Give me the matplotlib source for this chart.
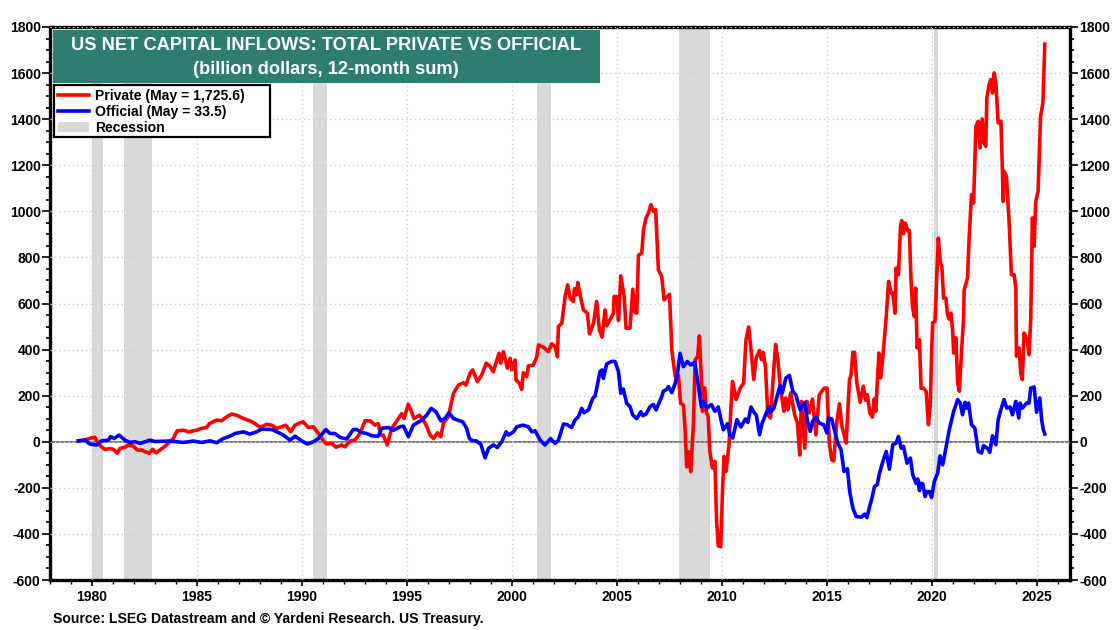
import matplotlib
matplotlib.use('Agg')
import matplotlib.pyplot as plt
from matplotlib.patches import Rectangle
from matplotlib.ticker import MultipleLocator

plt.rcParams['font.family'] = ['Liberation Sans', 'DejaVu Sans']
plt.rcParams['font.weight'] = 'bold'
plt.rcParams['axes.unicode_minus'] = False

private_year = [1979.35, 1979.59, 1979.83, 1979.98, 1980.14, 1980.25, 1980.41, 1980.62, 1980.86, 1981.02, 1981.21, 1981.33, 1981.57, 1981.73, 1981.97, 1982.16, 1982.37, 1982.52, 1982.73, 1982.89, 1983.05, 1983.24, 1983.48, 1983.71, 1983.87, 1984.06, 1984.38, 1984.59, 1984.98, 1985.22, 1985.46, 1985.59, 1985.94, 1986.17, 1986.41, 1986.65, 1986.89, 1987.21, 1987.52, 1987.76, 1988.0, 1988.32, 1988.56, 1988.79, 1989.03, 1989.22, 1989.46, 1989.67, 1989.9, 1990.06, 1990.3, 1990.54, 1990.78, 1991.02, 1991.17, 1991.41, 1991.62, 1991.89, 1992.05, 1992.29, 1992.52, 1992.76, 1993.0, 1993.24, 1993.48, 1993.63, 1993.75, 1993.87, 1994.06, 1994.27, 1994.48, 1994.75, 1994.86, 1995.06, 1995.22, 1995.33, 1995.59,
                1995.78, 1995.91, 1996.1, 1996.26, 1996.45, 1996.61, 1996.73, 1996.97, 1997.21, 1997.45, 1997.69, 1997.81, 1998.0, 1998.13, 1998.35, 1998.56, 1998.77, 1998.96, 1999.11, 1999.38, 1999.46, 1999.59, 1999.78, 1999.91, 1999.99, 2000.15, 2000.19, 2000.35, 2000.46, 2000.54, 2000.7, 2000.78, 2001.02, 2001.18, 2001.26, 2001.5, 2001.73, 2001.89, 2002.05, 2002.16, 2002.21, 2002.37, 2002.53, 2002.65, 2002.77, 2002.92, 2002.97, 2003.08, 2003.13, 2003.24, 2003.4, 2003.59, 2003.69, 2003.88, 2004.03, 2004.16, 2004.29, 2004.43, 2004.51, 2004.83, 2004.86, 2004.99, 2005.07, 2005.18, 2005.34, 2005.43, 2005.62, 2005.75, 2005.86, 2005.94, 2006.02, 2006.18, 2006.26, 2006.38, 2006.5, 2006.61, 2006.73, 2006.84, 2006.97, 2007.13, 2007.24, 2007.5, 2007.61, 2007.77, 2007.92, 2008.03, 2008.16, 2008.24, 2008.32, 2008.4, 2008.51, 2008.64, 2008.72, 2008.84, 2008.92,
                2009.02, 2009.07, 2009.18, 2009.26, 2009.34, 2009.42, 2009.54, 2009.66, 2009.74, 2009.82, 2009.94, 2010.03, 2010.1, 2010.19, 2010.34, 2010.42, 2010.5, 2010.67, 2010.87, 2011.03, 2011.14, 2011.27, 2011.38, 2011.51, 2011.63, 2011.78, 2011.88, 2011.96, 2012.07, 2012.18, 2012.31, 2012.42, 2012.55, 2012.66, 2012.79, 2012.95, 2013.04, 2013.14, 2013.27, 2013.46, 2013.59, 2013.7, 2013.78, 2013.94, 2014.04, 2014.15, 2014.31, 2014.47, 2014.63, 2014.87, 2015.0, 2015.11, 2015.22, 2015.32, 2015.46, 2015.59, 2015.71, 2015.91, 2016.07, 2016.15, 2016.23, 2016.31, 2016.42, 2016.58, 2016.73, 2016.84, 2016.92, 2017.04, 2017.16, 2017.24, 2017.32, 2017.47, 2017.56, 2017.66,
                2017.82, 2017.93, 2018.05, 2018.13, 2018.24, 2018.29, 2018.4, 2018.5, 2018.56, 2018.64, 2018.73, 2018.84, 2018.92, 2019.0, 2019.07, 2019.16, 2019.22, 2019.29, 2019.4, 2019.48, 2019.6, 2019.72, 2019.83, 2019.92, 2019.98, 2020.03, 2020.14, 2020.3, 2020.4, 2020.47, 2020.55, 2020.66, 2020.74, 2020.82, 2020.9, 2020.98, 2021.03, 2021.14, 2021.22, 2021.3, 2021.41, 2021.5, 2021.53, 2021.69, 2021.77, 2021.88, 2021.98, 2022.09, 2022.2, 2022.29, 2022.39, 2022.48, 2022.56, 2022.61, 2022.72, 2022.8, 2022.88, 2022.96, 2023.04, 2023.15, 2023.28, 2023.32, 2023.39, 2023.43, 2023.54, 2023.67, 2023.78, 2023.91, 2023.99, 2024.02, 2024.15, 2024.22, 2024.3, 2024.38, 2024.46, 2024.54, 2024.62, 2024.7, 2024.78, 2024.86, 2024.94, 2025.05, 2025.17, 2025.28, 2025.37]
private_val = [4, 7, 12, 17, 19, 0, -19, -33, -30, -33, -50, -29, -24, -14, -19, -36, -36, -43, -50, -33, -48, -36, -19, 0, 14, 48, 50, 43, 50, 58, 62, 79, 94, 91, 108, 120, 115, 101, 91, 79, 62, 76, 72, 58, 65, 72, 43, 72, 82, 86, 62, 65, 36, 4, -10, -7, -24, -14, -22, 3, 7, 36, 91, 91, 72, 79, 29, 29, -14, 58, 86, 122, 101, 163, 130, 101, 115,
               94, 72, 29, 14, 39, 22, 80, 109, 210, 246, 256, 246, 297, 312, 261, 290, 341, 326, 304, 384, 341, 391, 319, 362, 312, 355, 268, 254, 227, 300, 283, 329, 333, 369, 420, 410, 391, 425, 413, 369, 500, 514, 630, 681, 623, 609, 664, 638, 691, 638, 572, 558, 468, 514, 609, 485, 454, 572, 503, 558, 630, 630, 526, 720, 630, 493, 493, 662, 561, 558, 809, 819, 920, 971, 993, 1029, 1000, 1007, 746, 717, 616, 640, 398, 283, 290, 167, 159, 58, -109, -43, -130, 80, 355, 369, 459,
               270, 132, 233, 125, 110, -42, -114, -85, -339, -452, -455, -194, -64, -129, -6, 139, 262, 183, 233, 255, 443, 498, 400, 270, 364, 396, 356, 388, 325, 117, 103, 255, 422, 356, 226, 132, 190, 139, 212, 117, 81, -57, 175, -28, 175, 125, 185, 30, 204, 233, 233, -6, -78, -83, 81, 165, 67, -6, 270, 291, 388, 388, 255, 171, 241, 180, 204, 125, 107, 185, 132, 385, 277, 371,
               543, 696, 645, 645, 558, 754, 725, 935, 960, 903, 949, 916, 917, 703, 587, 543, 667, 407, 443, 232, 232, 219, 74, 168, 385, 516, 522, 884, 775, 761, 623, 623, 551, 532, 558, 486, 385, 451, 255, 219, 400, 530, 659, 710, 891, 1072, 1036, 1369, 1391, 1275, 1401, 1297, 1282, 1493, 1550, 1572, 1514, 1601, 1558, 1384, 1391, 1282, 1043, 1174, 1152, 956, 725, 725, 667, 371, 407, 298, 270, 472, 458, 436, 378, 530, 971, 848, 1043, 1087, 1413, 1471, 1725.6]

official_year = [1979.35, 1979.67, 1979.9, 1980.22, 1980.46, 1980.78, 1980.89, 1981.05, 1981.29, 1981.57, 1981.81, 1982.05, 1982.29, 1982.76, 1983.0, 1983.71, 1984.35, 1984.83, 1985.22, 1985.62, 1985.94, 1986.25, 1986.57, 1986.81, 1987.21, 1987.52, 1987.84, 1988.08, 1988.56, 1988.87, 1989.11, 1989.43, 1989.67, 1989.98, 1990.25, 1990.54, 1990.78, 1991.13, 1991.33, 1991.57, 1991.81, 1992.13, 1992.44, 1992.6, 1992.84, 1993.08, 1993.32, 1993.63, 1993.79, 1994.11, 1994.35, 1994.67,
                 1994.83, 1995.07, 1995.3, 1995.7, 1995.94, 1996.15, 1996.38, 1996.61, 1996.81, 1997.0, 1997.21, 1997.4, 1997.65, 1997.84, 1997.97, 1998.13, 1998.29, 1998.51, 1998.72, 1998.88, 1999.11, 1999.3, 1999.51, 1999.72, 1999.83, 2000.07, 2000.23, 2000.51, 2000.78, 2000.94, 2001.1, 2001.34, 2001.57, 2001.84, 2002.05, 2002.21, 2002.45, 2002.61, 2002.84, 2003.0, 2003.16, 2003.32, 2003.43, 2003.64, 2003.84, 2003.96, 2004.19, 2004.29, 2004.35, 2004.51, 2004.75, 2004.91, 2005.07, 2005.18, 2005.3, 2005.46, 2005.62, 2005.75, 2005.94, 2006.13, 2006.23, 2006.38, 2006.57, 2006.73, 2006.86, 2007.13, 2007.21, 2007.34, 2007.45, 2007.61, 2007.77, 2007.89, 2008.0, 2008.16, 2008.35, 2008.51, 2008.7, 2008.83,
                 2009.02, 2009.13, 2009.26, 2009.42, 2009.5, 2009.66, 2009.82, 2010.06, 2010.26, 2010.38, 2010.51, 2010.71, 2010.9, 2011.11, 2011.23, 2011.38, 2011.54, 2011.63, 2011.79, 2011.91, 2012.23, 2012.31, 2012.47, 2012.76, 2012.87, 2013.04, 2013.21, 2013.37, 2013.51, 2013.72, 2013.94, 2014.07, 2014.2, 2014.31, 2014.47, 2014.63, 2014.84, 2015.0, 2015.06, 2015.22, 2015.51, 2015.67,
                 2015.81, 2015.97, 2016.08, 2016.23, 2016.39, 2016.63, 2016.79, 2016.9, 2017.03, 2017.14, 2017.26, 2017.39, 2017.5, 2017.66, 2017.82, 2017.97, 2018.13, 2018.29, 2018.4, 2018.53, 2018.64, 2018.81, 2018.97, 2019.08, 2019.24, 2019.32, 2019.4, 2019.48, 2019.56, 2019.67, 2019.76, 2019.87, 2019.98, 2020.11, 2020.27, 2020.38, 2020.51, 2020.66, 2020.82, 2021.03, 2021.22, 2021.34, 2021.45, 2021.57, 2021.66, 2021.74, 2021.88, 2022.04, 2022.2, 2022.36, 2022.45, 2022.64, 2022.75, 2022.88, 2023.04, 2023.15, 2023.28, 2023.43, 2023.56, 2023.72, 2023.83, 2023.99, 2024.13, 2024.19, 2024.3, 2024.51, 2024.62, 2024.7, 2024.86, 2024.98, 2025.13, 2025.22, 2025.3, 2025.37]
official_val = [4, 7, -10, -14, 4, 7, 22, 14, 29, 7, -3, 0, -7, 7, 1, 3, -3, 3, -3, 4, -4, 14, 24, 36, 43, 33, 43, 55, 53, 40, 29, 7, 24, 4, -10, 0, 14, 53, 36, 36, 19, 12, 53, 53, 40, 36, 26, 24, 58, 62, 50, 65,
                68, 22, 72, 94, 116, 145, 130, 91, 101, 126, 101, 94, 87, 58, 14, 4, 4, -10, -70, -29, -14, -25, 0, 43, 29, 43, 65, 72, 65, 43, 48, 7, -14, 14, -7, 7, 77, 75, 62, 94, 109, 145, 126, 138, 188, 199, 304, 312, 275, 338, 349, 348, 304, 210, 229, 167, 152, 116, 100, 130, 113, 120, 152, 162, 138, 196, 220, 225, 239, 213, 254, 304, 384, 326, 348, 333, 345, 268,
                151, 175, 146, 156, 161, 132, 151, 52, 78, 26, 16, 96, 64, 99, 84, 151, 125, 117, 30, 81, 151, 128, 146, 243, 212, 277, 288, 219, 204, 139, 171, 88, 45, 88, 107, 81, 74, 38, 103, 99, -6, -35,
                -129, -117, -216, -288, -325, -327, -314, -329, -281, -245, -194, -187, -136, -85, -42, -119, -13, -6, 23, -28, -20, -93, -71, -143, -180, -162, -212, -180, -183, -238, -216, -216, -242, -172, -136, -61, -100, -28, 52, 132, 183, 168, 117, 171, 146, 168, 74, 59, -42, -49, -17, -28, -46, 26, -13, 96, 139, 183, 146, 151, 117, 175, 103, 168, 146, 168, 168, 233, 238, 128, 190, 96, 52, 33.5]

recession_start = [1980.0, 1981.5, 1990.5, 2001.2, 2007.95, 2020.1]
recession_end = [1980.5, 1982.85, 1991.2, 2001.85, 2009.45, 2020.3]

fig = plt.figure(figsize=(11.2, 6.3), dpi=100)
ax = fig.add_axes([50 / 1120, 1 - 580 / 630, 1020 / 1120, 553 / 630])

for i in range(len(recession_start)):
    ax.axvspan(recession_start[i], recession_end[i], color='#d9d9d9', lw=0, zorder=1,
               label='Recession' if i == 0 else None)
ax.axhline(0, color='#808080', lw=1.5, zorder=2)
line1, = ax.plot(private_year, private_val, color='#ff0000', lw=2.6, zorder=3, label='Private (May = 1,725.6)')
line2, = ax.plot(official_year, official_val, color='#0000ff', lw=2.6, zorder=4, label='Official (May = 33.5)')

ax.set_xlim(1978.0, 2026.57)
ax.set_ylim(-600, 1800)
ax.xaxis.set_major_locator(MultipleLocator(5))
ax.xaxis.set_minor_locator(MultipleLocator(1))
ax.yaxis.set_major_locator(MultipleLocator(200))
ax.yaxis.set_minor_locator(MultipleLocator(50))
ax.grid(True, which='major', color='#cfcfcf', ls=(0, (1, 2.2)), lw=1.0, zorder=2.5)
ax.set_axisbelow(False)
ax.tick_params(axis='y', which='both', left=True, right=True, labelleft=True, labelright=True,
               labelsize=10, pad=1.2, width=1.2)
ax.tick_params(axis='y', which='major', length=5.5)
ax.tick_params(axis='y', which='minor', length=3)
ax.tick_params(axis='x', which='major', length=4, width=1.2, labelsize=10, pad=3)
ax.tick_params(axis='x', which='minor', length=3, width=1)
for s in ax.spines.values():
    s.set_linewidth(2.4)

# title box
fig.add_artist(Rectangle((53 / 1120, 1 - 83 / 630), 547 / 1120, 53 / 630, transform=fig.transFigure,
                         facecolor='#2f7d6e', edgecolor='none', zorder=5))
fig.text(326 / 1120, 1 - 45.5 / 630, 'US NET CAPITAL INFLOWS: TOTAL PRIVATE VS OFFICIAL', color='white',
         fontsize=13.15, ha='center', va='center', zorder=6)
fig.text(326 / 1120, 1 - 69.5 / 630, '(billion dollars, 12-month sum)', color='white',
         fontsize=13.15, ha='center', va='center', zorder=6)

# legend frame is wider than the text in the original, so draw it apart
fig.add_artist(Rectangle((53.5 / 1120, 1 - 137 / 630), 216.5 / 1120, 52 / 630, transform=fig.transFigure,
                         facecolor='white', edgecolor='black', lw=1.6, zorder=6))
handles, labels = ax.get_legend_handles_labels()
order = [labels.index('Private (May = 1,725.6)'), labels.index('Official (May = 33.5)'), labels.index('Recession')]
leg = ax.legend([handles[i] for i in order], [labels[i] for i in order], loc='upper left',
                bbox_to_anchor=(3.5 / 1020, 1 - 58 / 553), borderaxespad=0, fontsize=10.07, frameon=False,
                labelspacing=0.12, handlelength=2.25, handletextpad=0.4, borderpad=0.3)
leg.set_zorder(7)
fig.add_artist(leg)
leg.set_zorder(8)

fig.text(53 / 1120, 1 - 619 / 630, 'Source: LSEG Datastream and \u00a9 Yardeni Research. US Treasury.',
         fontsize=10.08, ha='left', va='center')

fig.savefig('out.png', dpi=100)
